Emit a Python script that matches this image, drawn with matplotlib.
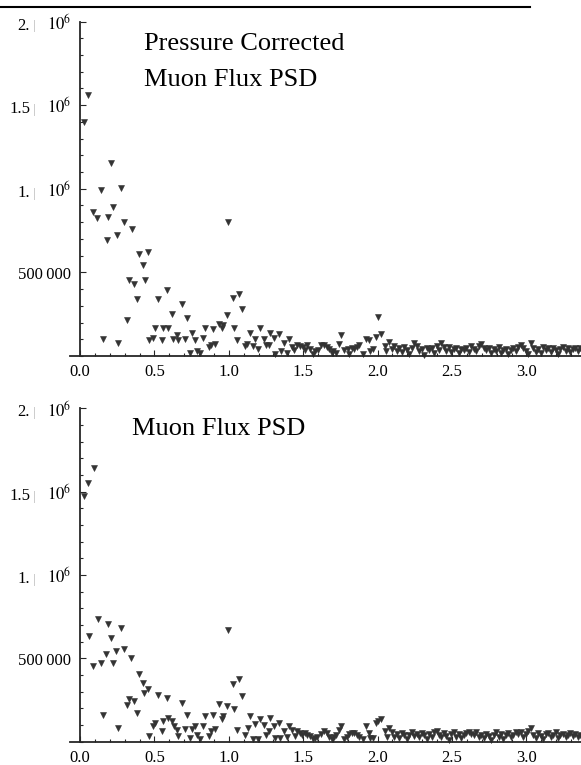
import matplotlib
matplotlib.use("Agg")
import matplotlib.pyplot as plt
from matplotlib.lines import Line2D
from matplotlib.ticker import MultipleLocator, NullFormatter

plt.rcParams["font.family"] = "serif"
plt.rcParams["font.serif"] = ["Liberation Serif", "DejaVu Serif"]
plt.rcParams["mathtext.fontset"] = "stix"

# --- data: PSD points (x in cycles, y in thousands) ---
x_top = [0.027, 0.056, 0.085, 0.116, 0.143, 0.153, 0.179, 0.188, 0.210, 0.222,
         0.247, 0.255, 0.278, 0.298, 0.314, 0.331, 0.347, 0.365, 0.381, 0.399,
         0.425, 0.435, 0.457, 0.466, 0.489, 0.502, 0.524, 0.551, 0.560, 0.585,
         0.591, 0.618, 0.625, 0.652, 0.659, 0.685, 0.704, 0.721, 0.737, 0.751,
         0.771, 0.788, 0.806, 0.829, 0.838, 0.867, 0.878, 0.896, 0.905, 0.932,
         0.956, 0.963, 0.990, 0.997, 1.026, 1.033, 1.057, 1.068, 1.091, 1.109,
         1.124, 1.145, 1.160, 1.178, 1.194, 1.212, 1.237, 1.250, 1.268, 1.279,
         1.302, 1.313, 1.337, 1.349, 1.373, 1.393, 1.407, 1.427, 1.440, 1.460,
         1.478, 1.497, 1.512, 1.528, 1.546, 1.564, 1.579, 1.597, 1.618, 1.640,
         1.658, 1.675, 1.692, 1.702, 1.720, 1.740, 1.752, 1.774, 1.801, 1.810,
         1.826, 1.843, 1.860, 1.877, 1.904, 1.922, 1.940, 1.949, 1.967, 1.989,
         2.005, 2.023, 2.050, 2.056, 2.079]
y_top = [1400, 1560, 861, 823, 990, 104, 694, 831, 1152, 891,
         723, 80, 1003, 800, 215, 454, 761, 432, 341, 612,
         544, 454, 620, 96, 110, 169, 341, 96, 169, 393,
         169, 251, 102, 124, 94, 311, 102, 229, 20, 136,
         94, 32, 16, 108, 169, 56, 66, 160, 72, 193,
         167, 183, 243, 803, 349, 169, 94, 373, 281, 62,
         70, 140, 62, 102, 40, 169, 100, 64, 64, 140,
         108, 14, 133, 32, 80, 16, 102, 52, 36, 64,
         60, 52, 36, 64, 44, 14, 32, 36, 64, 64,
         52, 44, 16, 32, 16, 72, 124, 36, 40, 14,
         48, 44, 52, 64, 14, 103, 96, 28, 44, 112,
         231, 133, 62, 32, 82]

x_bot = [0.025, 0.052, 0.060, 0.085, 0.092, 0.119, 0.143, 0.152, 0.177, 0.186,
         0.210, 0.220, 0.244, 0.255, 0.278, 0.298, 0.314, 0.331, 0.345, 0.363,
         0.381, 0.397, 0.423, 0.432, 0.457, 0.464, 0.491, 0.502, 0.524, 0.551,
         0.560, 0.583, 0.591, 0.620, 0.630, 0.652, 0.661, 0.685, 0.704, 0.719,
         0.739, 0.751, 0.771, 0.788, 0.806, 0.829, 0.838, 0.867, 0.878, 0.896,
         0.907, 0.932, 0.952, 0.963, 0.990, 0.997, 1.026, 1.035, 1.057, 1.068,
         1.091, 1.109, 1.127, 1.145, 1.160, 1.178, 1.194, 1.212, 1.237, 1.248,
         1.268, 1.279, 1.302, 1.310, 1.337, 1.344, 1.371, 1.393, 1.407, 1.427,
         1.443, 1.460, 1.478, 1.494, 1.512, 1.528, 1.546, 1.564, 1.579, 1.595,
         1.618, 1.640, 1.658, 1.675, 1.692, 1.707, 1.720, 1.740, 1.752, 1.774,
         1.792, 1.810, 1.826, 1.843, 1.860, 1.877, 1.904, 1.922, 1.940, 1.949,
         1.967, 1.989, 2.005, 2.023, 2.050, 2.061, 2.079]
y_bot = [1474, 1550, 635, 455, 1640, 733, 471, 161, 523, 705,
         621, 473, 545, 81, 683, 553, 221, 253, 503, 245,
         169, 403, 353, 291, 313, 33, 95, 109, 281, 63,
         123, 261, 139, 123, 93, 69, 33, 231, 73, 161,
         19, 73, 95, 39, 13, 93, 153, 35, 65, 161,
         77, 223, 133, 155, 213, 669, 343, 193, 69, 373,
         273, 39, 79, 153, 17, 103, 17, 133, 99, 39,
         65, 139, 93, 19, 113, 19, 65, 29, 93, 69,
         33, 63, 53, 39, 49, 39, 33, 13, 19, 29,
         43, 65, 53, 29, 13, 29, 39, 69, 93, 17,
         29, 43, 49, 49, 39, 29, 13, 93, 49, 19,
         19, 109, 123, 133, 65, 29, 79]

# dense high-frequency tail (same frequency bins for both panels)
x_tail = [2.096, 2.113, 2.129, 2.146, 2.163, 2.179, 2.196, 2.213, 2.229, 2.246,
          2.263, 2.279, 2.296, 2.313, 2.329, 2.346, 2.363, 2.379, 2.396, 2.413,
          2.429, 2.446, 2.463, 2.479, 2.496, 2.513, 2.529, 2.546, 2.563, 2.579,
          2.596, 2.613, 2.629, 2.646, 2.663, 2.679, 2.696, 2.713, 2.729, 2.746,
          2.763, 2.779, 2.796, 2.813, 2.829, 2.846, 2.863, 2.879, 2.896, 2.913,
          2.929, 2.946, 2.963, 2.979, 2.996, 3.013, 3.029, 3.046, 3.063, 3.079,
          3.096, 3.113, 3.129, 3.146, 3.163, 3.179, 3.196, 3.213, 3.229, 3.246,
          3.263, 3.279, 3.296, 3.313, 3.329, 3.346, 3.363]
y_tail_top = [40, 62, 30, 48, 22, 55, 35, 12, 45, 76,
              58, 28, 40, 8, 50, 33, 45, 20, 60, 38,
              80, 52, 30, 55, 25, 44, 50, 18, 42, 35,
              48, 22, 57, 40, 28, 62, 70, 50, 36, 45,
              15, 40, 30, 52, 20, 38, 44, 12, 35, 50,
              28, 55, 66, 45, 30, 10, 76, 48, 25, 40,
              18, 52, 35, 45, 22, 50, 38, 12, 44, 55,
              30, 48, 25, 40, 50, 32, 45]
y_tail_bot = [55, 30, 45, 20, 50, 38, 15, 42, 60, 35,
              48, 25, 52, 40, 18, 45, 30, 55, 62, 40,
              28, 50, 35, 12, 44, 56, 30, 48, 22, 40,
              52, 60, 45, 38, 55, 30, 42, 20, 48, 35,
              10, 40, 55, 28, 45, 18, 38, 50, 25, 42,
              60, 48, 55, 30, 45, 62, 79, 40, 22, 50,
              35, 15, 45, 52, 30, 40, 55, 20, 38, 48,
              28, 42, 50, 35, 45, 25, 40]

# title lines: (text, left px, baseline px)
title_lines = [
    [("Pressure Corrected", 144, 50), ("Muon Flux PSD", 144, 86)],
    [("Muon Flux PSD", 132, 435)],
]
ytick_major = [500000, 1000000, 1500000, 2000000]
ytick_text = [("", "500\u2009000"), ("1.", "$10^{6}$"), ("1.5", "$10^{6}$"), ("2.", "$10^{6}$")]
xtick_major = [0.0, 0.5, 1.0, 1.5, 2.0, 2.5, 3.0]

W, H = 581, 765
fig = plt.figure(figsize=(W / 100, H / 100), dpi=100)

X0, XSCALE = 80, 148.8
xmin = (70 - X0) / XSCALE
xmax = (W - X0) / XSCALE

panels = [
    (x_top + x_tail, y_top + y_tail_top, 356.0, 21.5),
    (x_bot + x_tail, y_bot + y_tail_bot, 741.5, 408.3),
]

ink = "#262626"
for i, (xs, ys, ypx0, ypx2) in enumerate(panels):
    ax = fig.add_axes([70 / W, (H - ypx0) / H, (W - 70) / W, (ypx0 - ypx2) / H])
    ax.plot(xs, [v * 1000 for v in ys], linestyle="none", marker="v",
            markersize=4.8, color="#333333", markeredgewidth=0.4,
            markeredgecolor="#333333", clip_on=False)
    ax.set_xlim(xmin, xmax)
    ax.set_ylim(0, 2.0e6)

    for s in ["top", "right"]:
        ax.spines[s].set_visible(False)
    ax.spines["left"].set_position(("data", 0))
    ax.spines["left"].set_bounds(0, 2.0e6)
    for s in ["left", "bottom"]:
        ax.spines[s].set_linewidth(1.3)
        ax.spines[s].set_color(ink)

    ax.set_xticks(xtick_major)
    ax.set_xticklabels([f"{v:.1f}" for v in xtick_major])
    ax.xaxis.set_minor_locator(MultipleLocator(0.1))
    ax.set_yticks(ytick_major)
    ax.yaxis.set_major_formatter(NullFormatter())
    ax.yaxis.set_minor_locator(MultipleLocator(100000))
    ax.tick_params(which="both", direction="in", color=ink, width=0.8)
    ax.tick_params(which="major", length=4.5)
    ax.tick_params(which="minor", length=2.3)
    ax.tick_params(axis="x", labelsize=12, pad=6)

    # y tick labels in the Mathematica "2.| 10^6" style
    for v, (mant, expo) in zip(ytick_major, ytick_text):
        dy = -6.5 if mant == "" else -8
        ax.annotate(expo, xy=(0, v), xycoords="data", xytext=(-9, dy),
                    textcoords="offset pixels", ha="right", va="baseline",
                    fontsize=12, annotation_clip=False)
        if mant:
            ax.annotate("|", xy=(0, v), xycoords="data", xytext=(-46, dy),
                        textcoords="offset pixels", ha="center", va="baseline",
                        fontsize=9, color="#b0b0b0", annotation_clip=False)
            ax.annotate(mant, xy=(0, v), xycoords="data", xytext=(-50, dy),
                        textcoords="offset pixels", ha="right", va="baseline",
                        fontsize=12, annotation_clip=False)

    for text, px, py in title_lines[i]:
        fig.text(px / W, 1 - py / H, text, fontsize=19, ha="left", va="baseline")

fig.add_artist(Line2D([0, 530 / W], [1 - 6.5 / H, 1 - 6.5 / H],
                      transform=fig.transFigure, color="black", lw=1.5))

fig.savefig("out.png", dpi=100)
